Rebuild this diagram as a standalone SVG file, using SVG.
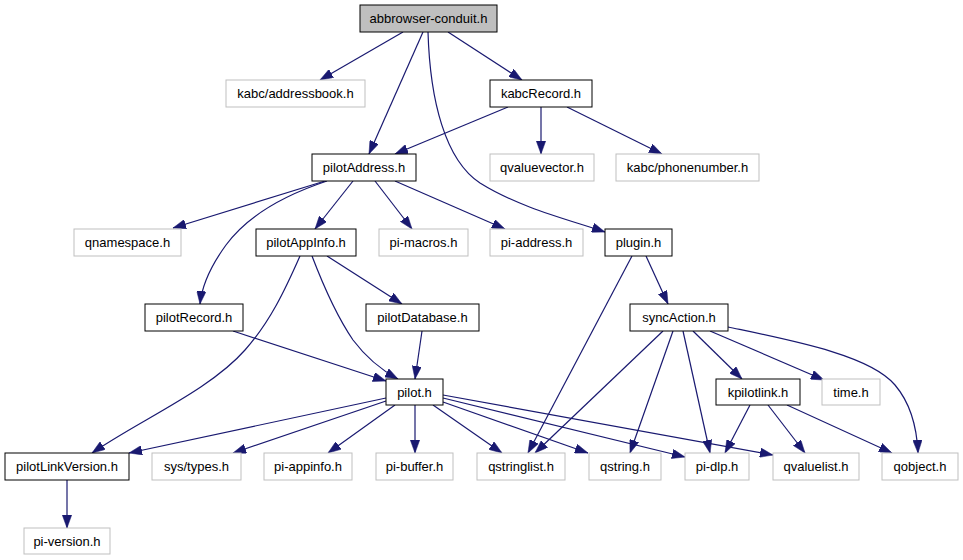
<svg xmlns="http://www.w3.org/2000/svg" width="963" height="560" viewBox="0 0 963 560">
<style>
.n rect{fill:#fff;stroke:#000;stroke-width:1}
.n.g rect{stroke:#bfbfbf}
.n.root rect{fill:#bfbfbf}
.n text{font-family:"Liberation Sans",Arial,sans-serif;font-size:13px;text-anchor:middle;fill:#000}
#edges path{fill:none;stroke:#191970;stroke-width:1.2;marker-end:url(#ah)}
</style>
<defs>
<marker id="ah" viewBox="0 0 13 9.4" refX="13" refY="4.7" markerWidth="13" markerHeight="9.4" orient="auto" markerUnits="userSpaceOnUse">
<path d="M0,0 L13,4.7 L0,9.4 z" fill="#191970" stroke="#191970" stroke-width="0.5"/>
</marker>
</defs>
<rect width="963" height="560" fill="#fff"/>
<g id="edges">
<path d="M403,32 L320,80"/>
<path d="M423,32 L369,154"/>
<path d="M428,32 C430,100 445,160 480,183 C520,208 570,220 605,232"/>
<path d="M448,32 L522,80"/>
<path d="M508,107 L395,154"/>
<path d="M541,107 L541,154"/>
<path d="M567,107 L662,154"/>
<path d="M325,181 L173,228"/>
<path d="M327,181 C285,195 248,215 226,245 C210,267 202,285 200,304"/>
<path d="M353,181 L315,229"/>
<path d="M375,181 L412,229"/>
<path d="M395,181 L505,229"/>
<path d="M646,256 L668,304"/>
<path d="M632,256 L528,453"/>
<path d="M663,331 L535,453"/>
<path d="M673,331 L630,453"/>
<path d="M683,331 L710,453"/>
<path d="M693,331 L742,379"/>
<path d="M710,331 L824,380"/>
<path d="M728,327 C790,340 870,355 895,385 C912,405 917,430 918,453"/>
<path d="M750,405 L725,453"/>
<path d="M768,405 L805,453"/>
<path d="M787,405 L892,453"/>
<path d="M327,256 L402,304"/>
<path d="M312,256 C325,290 338,318 353,340 C368,360 385,372 398,379"/>
<path d="M300,256 C285,290 270,322 245,350 C210,390 140,420 92,453"/>
<path d="M233,331 L386,381"/>
<path d="M422,331 L415,379"/>
<path d="M67,480 L67,528"/>
<path d="M386,398 L129,453"/>
<path d="M386,401 L233,453"/>
<path d="M395,405 L328,453"/>
<path d="M415,405 L415,453"/>
<path d="M433,405 L502,453"/>
<path d="M443,402 L588,453"/>
<path d="M443,398 L685,457"/>
<path d="M443,395 L773,455"/>
</g>
<g id="abbrowser-conduit" class="n root"><rect x="360" y="5" width="137" height="27"/><text x="428.5" y="23">abbrowser-conduit.h</text></g>
<g id="kabc-addressbook" class="n g"><rect x="226" y="80" width="139" height="27"/><text x="295.5" y="98">kabc/addressbook.h</text></g>
<g id="kabcRecord" class="n"><rect x="490" y="80" width="102" height="27"/><text x="541" y="98">kabcRecord.h</text></g>
<g id="pilotAddress" class="n"><rect x="312" y="154" width="104" height="27"/><text x="364" y="172">pilotAddress.h</text></g>
<g id="qvaluevector" class="n g"><rect x="490" y="154" width="104" height="27"/><text x="542" y="172">qvaluevector.h</text></g>
<g id="kabc-phonenumber" class="n g"><rect x="616" y="154" width="143" height="27"/><text x="687.5" y="172">kabc/phonenumber.h</text></g>
<g id="qnamespace" class="n g"><rect x="74" y="229" width="107" height="27"/><text x="127.5" y="247">qnamespace.h</text></g>
<g id="pilotAppInfo" class="n"><rect x="256" y="229" width="100" height="27"/><text x="306" y="247">pilotAppInfo.h</text></g>
<g id="pi-macros" class="n g"><rect x="379" y="229" width="89" height="27"/><text x="423.5" y="247">pi-macros.h</text></g>
<g id="pi-address" class="n g"><rect x="490" y="229" width="93" height="27"/><text x="536.5" y="247">pi-address.h</text></g>
<g id="plugin" class="n"><rect x="605" y="229" width="67" height="27"/><text x="638.5" y="247">plugin.h</text></g>
<g id="pilotRecord" class="n"><rect x="145" y="304" width="98" height="27"/><text x="194" y="322">pilotRecord.h</text></g>
<g id="pilotDatabase" class="n"><rect x="366" y="304" width="113" height="27"/><text x="422.5" y="322">pilotDatabase.h</text></g>
<g id="syncAction" class="n"><rect x="630" y="304" width="98" height="27"/><text x="679" y="322">syncAction.h</text></g>
<g id="pilot" class="n"><rect x="386" y="379" width="57" height="26"/><text x="414.5" y="397">pilot.h</text></g>
<g id="kpilotlink" class="n"><rect x="716" y="379" width="84" height="26"/><text x="758" y="397">kpilotlink.h</text></g>
<g id="time" class="n g"><rect x="822" y="379" width="58" height="26"/><text x="851" y="397">time.h</text></g>
<g id="pilotLinkVersion" class="n"><rect x="5" y="453" width="124" height="27"/><text x="67" y="471">pilotLinkVersion.h</text></g>
<g id="sys-types" class="n g"><rect x="152" y="453" width="89" height="27"/><text x="196.5" y="471">sys/types.h</text></g>
<g id="pi-appinfo" class="n g"><rect x="264" y="453" width="88" height="27"/><text x="308" y="471">pi-appinfo.h</text></g>
<g id="pi-buffer" class="n g"><rect x="376" y="453" width="77" height="27"/><text x="414.5" y="471">pi-buffer.h</text></g>
<g id="qstringlist" class="n g"><rect x="477" y="453" width="88" height="27"/><text x="521" y="471">qstringlist.h</text></g>
<g id="qstring" class="n g"><rect x="589" y="453" width="72" height="27"/><text x="625" y="471">qstring.h</text></g>
<g id="pi-dlp" class="n g"><rect x="685" y="453" width="64" height="27"/><text x="717" y="471">pi-dlp.h</text></g>
<g id="qvaluelist" class="n g"><rect x="773" y="453" width="86" height="27"/><text x="816" y="471">qvaluelist.h</text></g>
<g id="qobject" class="n g"><rect x="882" y="453" width="76" height="27"/><text x="920" y="471">qobject.h</text></g>
<g id="pi-version" class="n g"><rect x="24" y="528" width="86" height="26"/><text x="67" y="546">pi-version.h</text></g>
</svg>
